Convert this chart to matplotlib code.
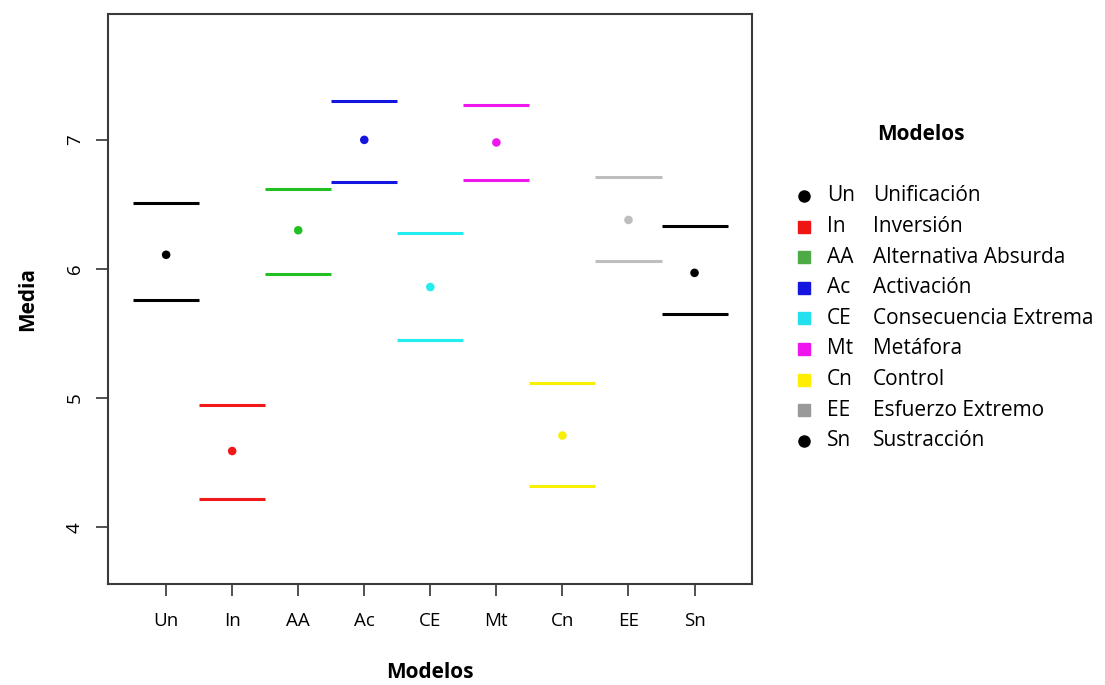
import matplotlib
matplotlib.use("Agg")
import matplotlib.pyplot as plt
import numpy as np

plt.rcParams['font.family'] = ['Open Sans', 'DejaVu Sans']

# --- data ---
codes = ["Un", "In", "AA", "Ac", "CE", "Mt", "Cn", "EE", "Sn"]
names = ["Unificación", "Inversión", "Alternativa Absurda", "Activación",
         "Consecuencia Extrema", "Metáfora", "Control", "Esfuerzo Extremo",
         "Sustracción"]
means = [6.11, 4.59, 6.30, 7.00, 5.86, 6.98, 4.71, 6.38, 5.97]
upper = [6.51, 4.95, 6.62, 7.30, 6.28, 7.27, 5.12, 6.71, 6.33]
lower = [5.76, 4.22, 5.96, 6.67, 5.45, 6.69, 4.32, 6.06, 5.65]

plot_colors = ["#000000", "#F01818", "#22C022", "#1515E0", "#22EEF0",
               "#EE18EE", "#F8F000", "#BEBEBE", "#000000"]
legend_colors = ["#000000", "#EE1515", "#4DAA44", "#1515E0", "#22E0EE",
                 "#EE15EE", "#FFEE00", "#999999", "#000000"]

W, H = 1105, 685
fig = plt.figure(figsize=(W / 100, H / 100), dpi=100)
ax = fig.add_axes([108 / W, 1 - 584 / H, (752 - 108) / W, (584 - 14) / H])

x = np.arange(1, len(codes) + 1)
ax.hlines(upper, x - 0.5, x + 0.5, colors=plot_colors, lw=2.2)
ax.hlines(lower, x - 0.5, x + 0.5, colors=plot_colors, lw=2.2)
ax.scatter(x, means, c=plot_colors, s=38, zorder=3, linewidths=0)

ax.set_xlim(0.12, 9.87)
ax.set_ylim(3.56, 7.975)
ax.set_xticks(x)
ax.set_xticklabels(codes, fontsize=13.5)
ax.set_yticks([4, 5, 6, 7])
ax.set_yticklabels(["4", "5", "6", "7"], fontsize=13.5, rotation=90, va="center")
ax.tick_params(axis="both", length=8.5, width=1.2, color="#333333")
ax.tick_params(axis="x", pad=12)
ax.tick_params(axis="y", pad=9)
for s in ax.spines.values():
    s.set_linewidth(1.5)
    s.set_color("#3a3a3a")

ax.set_xlabel("Modelos", fontsize=15, fontweight="bold", labelpad=23)
ax.set_ylabel("Media", fontsize=15, fontweight="bold", labelpad=20)

# --- legend drawn as figure text ---
def fx(px):
    return px / W

def fy(py):
    return 1 - py / H

fig.text(fx(921), fy(135), "Modelos", fontsize=15, fontweight="bold",
         ha="center", va="center")
for i, (c, n) in enumerate(zip(codes, names)):
    y = 196 + i * 30.6
    mk = "o" if c in ("Un", "Sn") else "s"
    fig.lines.append(plt.Line2D([fx(804)], [fy(y)], transform=fig.transFigure,
                                marker=mk, ms=8, color=legend_colors[i],
                                linestyle="none"))
    fig.text(fx(827), fy(y), c, fontsize=15, ha="left", va="center")
    fig.text(fx(873), fy(y), n, fontsize=15, ha="left", va="center")

fig.savefig("out.png", dpi=100)
